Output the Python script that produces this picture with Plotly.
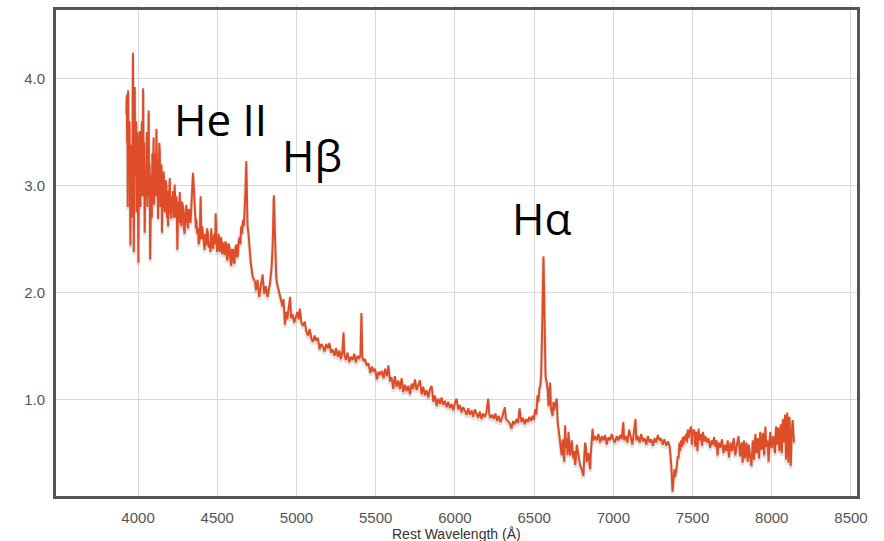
import plotly.graph_objects as go

# --- spectrum, segment 1: blue end (noisy) ---
wl_a = [3926, 3929, 3931, 3933, 3935, 3937, 3940, 3943, 3946, 3949,
        3952, 3955, 3958, 3961, 3964, 3966, 3968, 3970, 3973, 3976,
        3979, 3982, 3985, 3988, 3990, 3993, 3996, 3999, 4002, 4006,
        4011, 4015, 4018, 4021, 4024, 4027, 4030, 4032, 4035, 4038,
        4042, 4046, 4050, 4053, 4056, 4059, 4063, 4067, 4070, 4073,
        4076, 4080, 4084, 4087, 4090, 4094, 4098, 4101, 4105, 4109,
        4112, 4116, 4120, 4123, 4126, 4130, 4134, 4137, 4141, 4145,
        4148, 4151, 4155, 4158, 4162, 4166, 4170, 4174, 4179, 4183,
        4186, 4189, 4194, 4197, 4200, 4205, 4210, 4214, 4218, 4221,
        4226, 4231, 4235, 4239, 4243, 4248, 4252, 4256, 4260, 4263,
        4268, 4273, 4278, 4284, 4289, 4294, 4299, 4305, 4310, 4315,
        4320, 4326, 4331, 4336, 4342, 4347]
fx_a = [3.67, 3.85, 3.40, 3.75, 2.80, 3.89, 3.30, 3.07, 3.60, 2.90,
        2.44, 3.20, 3.38, 2.70, 3.00, 3.70, 4.24, 3.20, 2.38, 3.30,
        3.92, 3.10, 3.20, 3.60, 2.75, 3.30, 3.50, 2.90, 2.28, 3.20,
        3.51, 2.80, 3.40, 2.91, 3.60, 3.30, 2.90, 3.91, 3.10, 3.40,
        2.56, 3.10, 2.90, 3.23, 3.50, 2.80, 3.10, 3.70, 2.90, 3.20,
        2.31, 2.95, 3.10, 2.70, 3.30, 3.00, 3.45, 2.82, 3.15, 3.30,
        2.90, 3.53, 3.05, 3.25, 2.69, 3.00, 3.40, 3.32, 2.80, 2.90,
        3.20, 2.56, 2.95, 3.10, 3.13, 2.80, 2.75, 3.05, 3.00, 2.70,
        2.95, 2.62, 2.85, 3.05, 3.07, 2.75, 2.69, 2.90, 2.80, 2.95,
        2.70, 3.01, 2.85, 2.70, 2.90, 2.40, 2.70, 2.85, 2.65, 2.94,
        2.72, 2.62, 2.85, 2.80, 2.60, 2.55, 2.75, 2.82, 2.65, 2.60,
        2.78, 2.75, 2.65, 2.85, 3.00, 3.12]

# --- segment 2: 4350-4650 ---
wl_b = [4353, 4357, 4361, 4365, 4368, 4373, 4378, 4383, 4389, 4392,
        4395, 4398, 4401, 4405, 4410, 4415, 4420, 4425, 4431, 4436,
        4441, 4446, 4452, 4457, 4462, 4467, 4473, 4478, 4483, 4487,
        4490, 4494, 4499, 4504, 4509, 4515, 4520, 4525, 4530, 4536,
        4541, 4546, 4551, 4557, 4562, 4567, 4572, 4578, 4583, 4588,
        4593, 4599, 4604, 4609, 4614, 4620, 4625, 4630, 4635, 4641,
        4646, 4651]
fx_b = [2.95, 2.80, 2.75, 2.60, 2.69, 2.55, 2.60, 2.45, 2.50, 2.70,
        2.90, 2.65, 2.50, 2.62, 2.56, 2.45, 2.40, 2.55, 2.44, 2.60,
        2.55, 2.42, 2.47, 2.38, 2.60, 2.45, 2.41, 2.52, 2.55, 2.45,
        2.74, 2.50, 2.38, 2.45, 2.55, 2.38, 2.45, 2.52, 2.36, 2.47,
        2.40, 2.35, 2.48, 2.45, 2.30, 2.34, 2.46, 2.42, 2.30, 2.25,
        2.40, 2.40, 2.28, 2.28, 2.42, 2.45, 2.33, 2.35, 2.48, 2.52,
        2.45, 2.62]

# --- segment 3: He II to red end ---
wl_c = [
    4656, 4662, 4668, 4674, 4678, 4683, 4687, 4691, 4697, 4702, 4708, 4712, 4718, 4723, 4733, 4740, 4744, 4754,
    4765, 4775, 4786, 4796, 4806, 4817, 4826, 4833, 4843, 4850, 4857, 4862, 4866, 4872, 4877, 4887, 4898, 4912,
    4918, 4927, 4935, 4942, 4950, 4960, 4966, 4975, 4985, 4995, 5006, 5015, 5021, 5031, 5042, 5052, 5062, 5073,
    5083, 5094, 5104, 5114, 5125, 5135, 5146, 5156, 5166, 5177, 5187, 5198, 5208, 5218, 5228, 5240, 5250, 5261,
    5271, 5280, 5290, 5297, 5302, 5312, 5322, 5333, 5343, 5354, 5364, 5375, 5385, 5396, 5404, 5410, 5415, 5424,
    5433, 5443, 5454, 5466, 5477, 5487, 5496, 5508, 5518, 5529, 5538, 5550, 5559, 5570, 5580, 5590, 5600, 5611,
    5621, 5632, 5643, 5653, 5664, 5674, 5685, 5695, 5706, 5716, 5727, 5737, 5748, 5758, 5769, 5779, 5790, 5800,
    5811, 5821, 5832, 5843, 5853, 5864, 5874, 5885, 5895, 5906, 5916, 5927, 5937, 5948, 5958, 5969, 5979, 5990,
    6000, 6010, 6021, 6031, 6042, 6052, 6063, 6073, 6084, 6094, 6105, 6115, 6126, 6136, 6147, 6157, 6168, 6178,
    6189, 6199, 6210, 6217, 6225, 6235, 6245, 6256, 6266, 6276, 6287, 6297, 6315, 6322, 6336, 6346, 6357, 6367,
    6378, 6388, 6399, 6408, 6420, 6430, 6440, 6450, 6460, 6470, 6480, 6490, 6498, 6506, 6514, 6521, 6527, 6533,
    6540, 6544, 6550, 6555, 6559, 6563, 6567, 6572, 6580, 6585, 6591, 6596, 6601, 6606, 6612, 6617, 6622, 6627,
    6633, 6643, 6648, 6653, 6664, 6669, 6674, 6680, 6685, 6690, 6696, 6701, 6706, 6711, 6717, 6722, 6727, 6732,
    6738, 6743, 6748, 6753, 6759, 6764, 6769, 6780, 6790, 6800, 6811, 6816, 6822, 6827, 6832, 6843, 6853, 6858,
    6864, 6869, 6874, 6885, 6895, 6906, 6916, 6927, 6937, 6948, 6958, 6969, 6979, 6990, 7000, 7010, 7021, 7031,
    7042, 7052, 7063, 7068, 7079, 7089, 7100, 7110, 7120, 7130, 7140, 7145, 7155, 7166, 7176, 7187, 7197, 7208,
    7218, 7229, 7239, 7250, 7260, 7270, 7281, 7291, 7300, 7312, 7322, 7335, 7345, 7355, 7365, 7374, 7380, 7385,
    7390, 7396, 7401, 7406, 7412, 7417, 7422, 7427, 7433, 7438, 7443, 7448, 7454, 7459, 7464, 7469, 7475, 7480,
    7490, 7496, 7500, 7511, 7517, 7524, 7531, 7538, 7545, 7551, 7560, 7566, 7573, 7581, 7590, 7600, 7611, 7620,
    7628, 7636, 7644, 7652, 7658, 7665, 7675, 7686, 7695, 7705, 7714, 7722, 7730, 7740, 7750, 7760, 7770, 7780,
    7790, 7800, 7810, 7816, 7824, 7831, 7840, 7848, 7855, 7863, 7872, 7880, 7888, 7897, 7904, 7912, 7920, 7927,
    7935, 7944, 7952, 7960, 7965, 7973, 7980, 7990, 8000, 8010, 8020, 8027, 8034, 8040, 8048, 8056, 8063, 8070,
    8077, 8084, 8090, 8098, 8105, 8112, 8120, 8126, 8132, 8140,
]
fx_c = [
    2.55, 2.68, 2.62, 2.80, 2.95, 3.23, 2.75, 2.62, 2.55, 2.43, 2.35, 2.27, 2.21, 2.15, 2.12, 2.09, 2.02, 2.12,
    1.96, 2.05, 2.17, 1.99, 2.06, 1.96, 2.03, 2.09, 2.24, 2.45, 2.91, 2.60, 2.31, 2.15, 2.09, 2.02, 1.95, 1.87,
    1.94, 1.70, 1.82, 1.75, 1.85, 1.96, 1.76, 1.80, 1.72, 1.78, 1.82, 1.75, 1.85, 1.72, 1.69, 1.73, 1.64, 1.60,
    1.66, 1.57, 1.54, 1.60, 1.55, 1.58, 1.47, 1.52, 1.50, 1.45, 1.52, 1.48, 1.53, 1.44, 1.47, 1.41, 1.48, 1.40,
    1.46, 1.38, 1.45, 1.63, 1.42, 1.37, 1.44, 1.35, 1.40, 1.37, 1.43, 1.35, 1.41, 1.38, 1.42, 1.81, 1.40, 1.36,
    1.38, 1.32, 1.34, 1.25, 1.31, 1.26, 1.29, 1.19, 1.26, 1.23, 1.27, 1.20, 1.29, 1.22, 1.32, 1.17, 1.21, 1.10,
    1.22, 1.12, 1.18, 1.10, 1.20, 1.07, 1.14, 1.08, 1.13, 1.05, 1.15, 1.10, 1.19, 1.09, 1.14, 1.18, 1.05, 1.12,
    1.04, 1.09, 1.02, 1.10, 1.13, 0.98, 1.04, 0.94, 1.01, 0.96, 1.02, 0.95, 0.99, 0.93, 0.98, 0.92, 0.96, 0.90,
    0.97, 1.01, 0.91, 0.95, 0.88, 0.93, 0.90, 0.86, 0.92, 0.86, 0.90, 0.84, 0.91, 0.87, 0.83, 0.89, 0.82, 0.87,
    0.84, 0.88, 1.01, 0.86, 0.83, 0.86, 0.82, 0.87, 0.80, 0.85, 0.79, 0.83, 0.93, 0.82, 0.80, 0.78, 0.73, 0.80,
    0.77, 0.82, 0.78, 0.92, 0.79, 0.83, 0.77, 0.82, 0.79, 0.84, 0.80, 0.85, 0.81, 0.91, 0.86, 1.04, 0.98, 1.10,
    1.14, 1.22, 1.60, 1.95, 2.34, 2.00, 1.55, 1.22, 1.16, 1.10, 0.94, 1.05, 1.16, 0.92, 0.88, 0.85, 0.98, 0.90,
    0.95, 1.01, 0.80, 0.73, 0.60, 0.55, 0.48, 0.63, 0.54, 0.42, 0.76, 0.55, 0.64, 0.48, 0.70, 0.58, 0.48, 0.55,
    0.62, 0.50, 0.45, 0.52, 0.39, 0.45, 0.58, 0.48, 0.39, 0.35, 0.29, 0.45, 0.60, 0.56, 0.42, 0.50, 0.35, 0.50,
    0.66, 0.73, 0.62, 0.66, 0.62, 0.68, 0.60, 0.66, 0.62, 0.67, 0.58, 0.65, 0.62, 0.68, 0.63, 0.60, 0.66, 0.62,
    0.67, 0.63, 0.79, 0.62, 0.66, 0.60, 0.72, 0.65, 0.58, 0.70, 0.82, 0.62, 0.66, 0.60, 0.68, 0.61, 0.64, 0.58,
    0.66, 0.60, 0.63, 0.57, 0.64, 0.60, 0.67, 0.62, 0.64, 0.58, 0.63, 0.57, 0.61, 0.57, 0.40, 0.14, 0.22, 0.35,
    0.28, 0.32, 0.38, 0.47, 0.45, 0.60, 0.52, 0.62, 0.56, 0.65, 0.58, 0.66, 0.62, 0.68, 0.60, 0.72, 0.64, 0.70,
    0.75, 0.58, 0.70, 0.72, 0.56, 0.70, 0.52, 0.73, 0.62, 0.68, 0.57, 0.70, 0.61, 0.66, 0.60, 0.64, 0.55, 0.62,
    0.58, 0.65, 0.56, 0.62, 0.48, 0.60, 0.55, 0.63, 0.50, 0.58, 0.52, 0.62, 0.46, 0.60, 0.52, 0.64, 0.48, 0.58,
    0.66, 0.47, 0.60, 0.41, 0.62, 0.45, 0.60, 0.42, 0.58, 0.47, 0.38, 0.62, 0.44, 0.68, 0.50, 0.64, 0.45, 0.70,
    0.53, 0.69, 0.48, 0.75, 0.56, 0.62, 0.42, 0.70, 0.55, 0.66, 0.50, 0.75, 0.58, 0.74, 0.52, 0.77, 0.50, 0.82,
    0.60, 0.86, 0.44, 0.88, 0.41, 0.84, 0.38, 0.70, 0.81, 0.60,
]

assert len(wl_a) == len(fx_a) and len(wl_b) == len(fx_b) and len(wl_c) == len(fx_c)
wavelength = wl_a + wl_b + wl_c
flux = fx_a + fx_b + fx_c

x_ticks = [4000, 4500, 5000, 5500, 6000, 6500, 7000, 7500, 8000, 8500]
y_ticks = [1.0, 2.0, 3.0, 4.0]
y_tick_text = ["1.0", "2.0", "3.0", "4.0"]
x_title = "Rest Wavelength (Å)"

labels = ["He II", "Hβ", "Hα"]
label_x = [4520, 5100, 6548]
label_y = [3.62, 3.29, 2.70]

shadow_offset = 0.025
shadow_y = [v - shadow_offset for v in flux]

fig = go.Figure()
fig.add_trace(go.Scatter(
    x=wavelength, y=shadow_y, mode="lines",
    line=dict(color="rgba(0,0,0,0.12)", width=3.5),
    hoverinfo="skip", showlegend=False,
))
fig.add_trace(go.Scatter(
    x=wavelength, y=flux, mode="lines",
    line=dict(color="#DF4C28", width=2),
    showlegend=False,
))

for t, lx, ly in zip(labels, label_x, label_y):
    fig.add_annotation(
        x=lx, y=ly, xref="x", yref="y", text=t, showarrow=False,
        font=dict(family="Open Sans", size=44, color="#000000"),
    )

# axis title, placed just under the tick labels
fig.add_annotation(
    x=0.5, y=-0.078, xref="paper", yref="paper", text=x_title, showarrow=False,
    yanchor="middle", font=dict(family="Liberation Sans", size=14, color="#333333"),
)

# gridline stubs poking above the frame
for xt in x_ticks:
    fig.add_shape(type="line", xref="x", yref="paper", x0=xt, x1=xt, y0=1.0, y1=1.011,
                  line=dict(color="#d9d9d9", width=1), layer="below")

fig.update_layout(
    width=884, height=541,
    margin=dict(l=56, r=27, t=10, b=45),
    paper_bgcolor="white", plot_bgcolor="white",
    xaxis=dict(
        range=[3482, 8538], tickvals=x_ticks, showgrid=True, gridcolor="#d9d9d9", gridwidth=1,
        showline=True, linecolor="#555555", linewidth=3, mirror=True, zeroline=False,
        automargin=False,
        ticks="", ticklabelstandoff=6, tickfont=dict(family="Liberation Sans", size=15, color="#555555"),
    ),
    yaxis=dict(
        range=[0.10, 4.64], tickvals=y_ticks, ticktext=y_tick_text, showgrid=True,
        gridcolor="#d9d9d9", gridwidth=1,
        showline=True, linecolor="#555555", linewidth=3, mirror=True, zeroline=False,
        automargin=False,
        ticks="", ticklabelstandoff=5, tickfont=dict(family="Liberation Sans", size=15, color="#555555"),
    ),
)

fig.write_html("out.html")
